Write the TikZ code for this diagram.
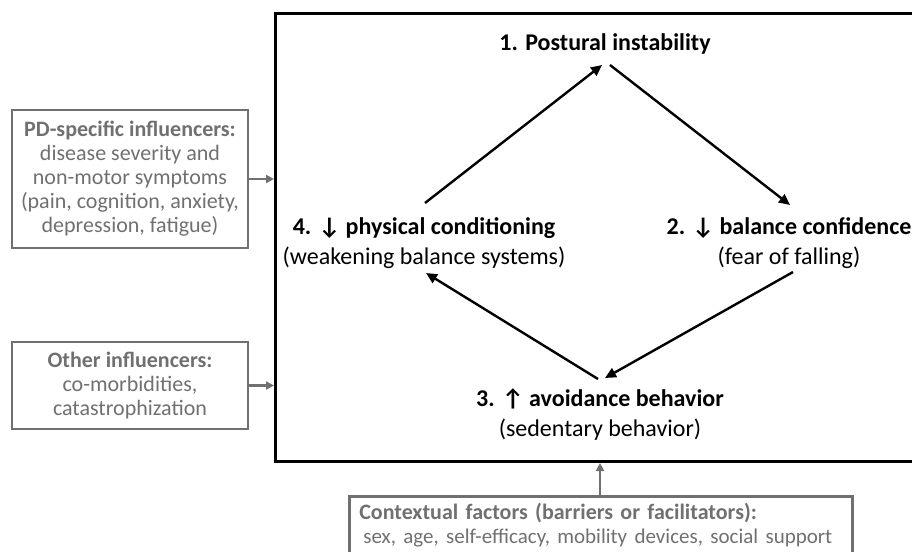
\documentclass[tikz,border=0pt]{standalone}
\usepackage{fontspec}
\setmainfont{Carlito}
\usetikzlibrary{arrows.meta,calc}
\definecolor{boxgray}{RGB}{112,112,112}
\tikzset{
  mainfont/.style={font=\fontsize{24}{30}\selectfont, text=black},
  boxfont/.style={font=\fontsize{22}{24}\selectfont, text=boxgray},
  stagetext/.style={mainfont, align=center, inner sep=0pt},
  inflbox/.style={boxfont, draw=boxgray, line width=2.6pt, align=center, inner sep=0pt},
  arr/.style={draw=black, line width=2.4pt, -{Triangle[length=11pt,width=10pt]}},
  garr/.style={draw=boxgray, line width=2.4pt, -{Triangle[length=8pt,width=8pt]}},
}
\begin{document}
\begin{tikzpicture}[x=1pt,y=-1pt]
\useasboundingbox (0,0) rectangle (912,551);
\clip (0,0) rectangle (912,551);
% main frame
\node[draw=black, line width=3pt, minimum width=660pt, minimum height=448pt, anchor=north west, inner sep=0pt] (main) at (274,12) {};
% stages
\node[stagetext] (n1) at (605,44) {\textbf{1. Postural instability}};
\node[stagetext] (n2) at (789,243) {\textbf{2. ↓ balance confidence}\\(fear of falling)};
\node[stagetext] (n3) at (600,415) {\textbf{3. ↑ avoidance behavior}\\(sedentary behavior)};
\node[stagetext] (n4) at (424,243) {\textbf{4. ↓ physical conditioning}\\(weakening balance systems)};
% arrow end points, relative to the stage nodes
\coordinate (n1in)  at ($(n1)+(-3,21)$);
\coordinate (n1out) at ($(n1)+(5,21)$);
\coordinate (n2in)  at ($(n2)+(1,-38)$);
\coordinate (n2out) at ($(n2)+(4,29)$);
\coordinate (n3in)  at ($(n3)+(5,-37)$);
\coordinate (n3out) at ($(n3)+(-2,-36)$);
\coordinate (n4in)  at ($(n4)+(2,30)$);
\coordinate (n4out) at ($(n4)+(1,-40)$);
% cycle arrows
\draw[arr] (n4out) -- (n1in);
\draw[arr] (n1out) -- (n2in);
\draw[arr] (n2out) -- (n3in);
\draw[arr] (n3out) -- (n4in);
% influencer boxes
\node[inflbox, minimum width=236pt, minimum height=138pt] (b1) at (130,179)
  {\textbf{PD-specific influencers:}\\disease severity and\\non-motor symptoms\\(pain, cognition, anxiety,\\depression, fatigue)};
\node[inflbox, minimum width=236pt, minimum height=87pt] (b2) at (130,385.5)
  {\textbf{Other influencers:}\\co-morbidities,\\catastrophization};
\node[boxfont, draw=boxgray, line width=2.6pt, align=left, anchor=north west, inner xsep=10pt, inner ysep=5pt, text width=483pt, minimum height=90pt, text depth=60pt] (b3) at (348,495)
  {\textbf{Contextual factors (barriers or facilitators):}\\\mbox{\fontsize{21}{24}\selectfont\hspace{4pt}sex, age, self-efficacy, mobility devices, social support}};
\draw[garr] (b1.east) -- (b1.east -| main.west);
\draw[garr] (b2.east) -- (b2.east -| main.west);
\draw[garr] (b3.north -| n3) -- (n3 |- main.south);
\end{tikzpicture}
\end{document}
